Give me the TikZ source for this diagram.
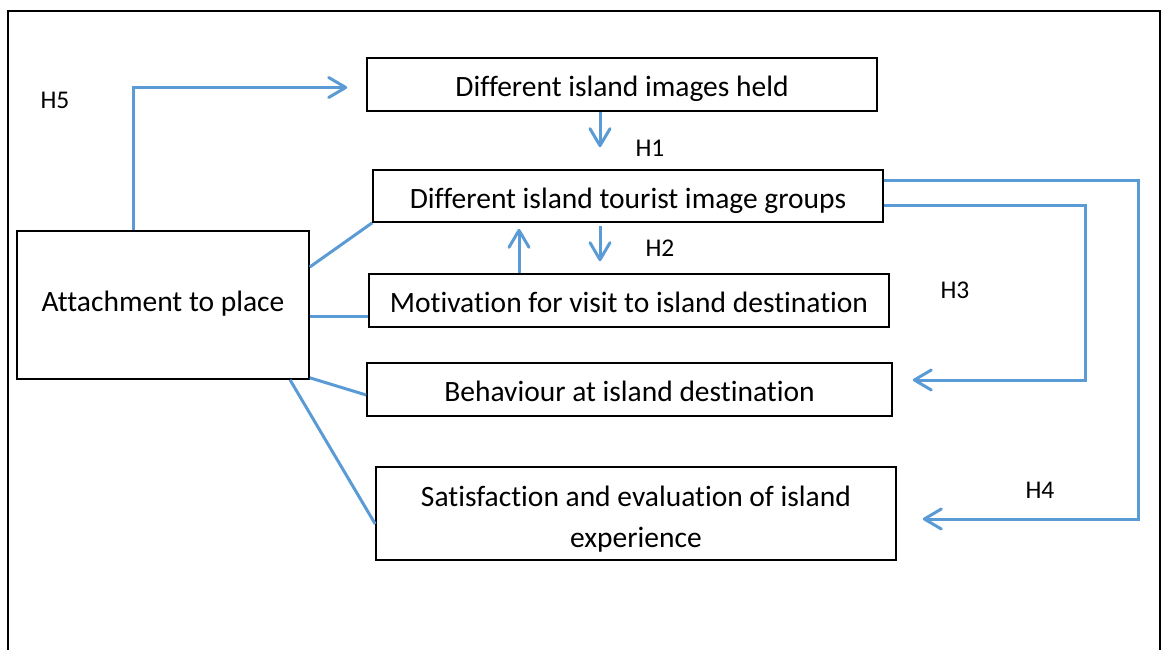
\documentclass[tikz,border=0pt]{standalone}
\usepackage{fontspec}
\setmainfont{Carlito}[Ligatures=NoCommon]
\usetikzlibrary{arrows.meta}
\definecolor{linkblue}{RGB}{91,155,213}
\begin{document}
\begin{tikzpicture}[x=1pt,y=-1pt,
  box/.style={draw=black,line width=1.6pt,inner sep=0pt,
    font=\fontsize{29.5}{35}\selectfont},
  oneline/.style={text height=27pt,text depth=3pt},
  hlabel/.style={inner sep=0pt,font=\fontsize{25.5}{30}\selectfont},
  link/.style={draw=linkblue,line width=3pt},
  arr/.style={link,-{Straight Barb[length=17pt,width=20pt,round]}}]
\useasboundingbox (0,0) rectangle (1162,650);
% outer frame, open at the bottom
\draw[line width=2pt] (8,650) -- (8,11) -- (1160,11) -- (1160,650);

% boxes
\node[box,oneline,minimum width=510pt,minimum height=53pt] (imgs) at (622,84.5) {Different island images held};
\node[box,oneline,minimum width=510pt,minimum height=52pt] (groups) at (628,196) {Different island tourist image groups};
\node[box,text height=21pt,text depth=9pt,minimum width=292pt,minimum height=148pt] (attach) at (163,305) {Attachment to place\hspace{6pt}};
\node[box,oneline,minimum width=520pt,minimum height=53pt] (motiv) at (629,300.5) {Motivation for visit to island destination};
\node[box,oneline,minimum width=525pt,minimum height=53pt] (behav) at (629.5,389.5) {Behaviour at island destination};
\node[box,minimum width=520pt,minimum height=93pt,align=center,
  font=\fontsize{29.5}{41.5}\selectfont] (satis) at (636,513.5)
  {\rule{0pt}{32pt}Satisfaction and evaluation of island\\experience};

% hypothesis labels
\node[hlabel] (h5) at (55,100) {H5};
\node[hlabel] (h1) at (650,148) {H1};
\node[hlabel] (h2) at (660,248) {H2};
\node[hlabel] (h3) at (955,290) {H3};
\node[hlabel] (h4) at (1040,490) {H4};

% plain links from the attachment box
\draw[link] ([yshift=38pt]attach.east) -- (groups.south west);
\draw[link] (attach.east |- 0,316) -- (motiv.west |- 0,316);
\draw[link] ([yshift=2pt]attach.south east) -- ([yshift=-5.5pt]behav.west);
\draw[link] (attach.south -| 290,0) -- (satis.west |- 0,524);

% H5
\draw[arr,shorten >=19pt] (attach.north -| 133,0) |- ([yshift=-3pt]imgs.west);
% H1
\draw[arr,shorten >=22pt] (imgs.south -| 600,0) -- (groups.north -| 600,0);
% H2
\draw[arr,shorten >=6pt] (motiv.north -| 519,0) -- (groups.south -| 519,0);
\draw[arr,shorten <=3pt,shorten >=12pt] (groups.south -| 600,0) -- (motiv.north -| 600,0);
% H3
\coordinate (h3c) at (1085,0);
\draw[arr,shorten >=20pt] (groups.east |- 0,205) -- (h3c |- 0,205) -- (h3c |- 0,380) -- (behav.east |- 0,380);
% H4
\coordinate (h4c) at (1138,0);
\draw[arr,shorten >=26pt] (groups.east |- 0,180) -- (h4c |- 0,180) -- (h4c |- 0,519) -- (satis.east |- 0,519);
\end{tikzpicture}
\end{document}
